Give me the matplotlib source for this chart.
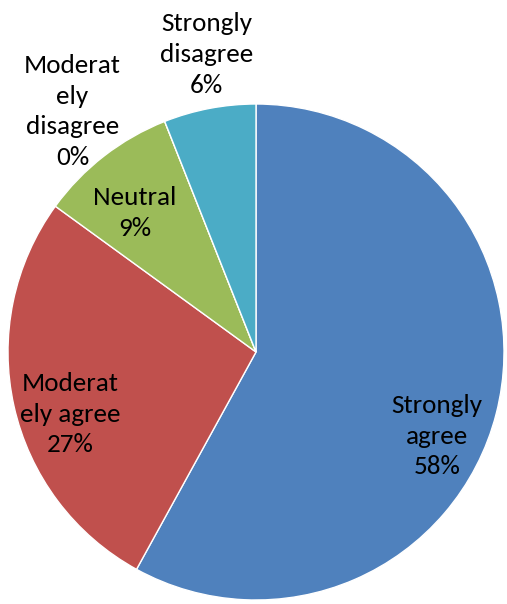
import matplotlib
matplotlib.use("Agg")
import matplotlib.pyplot as plt

# survey responses, percent (clockwise from 12 o'clock)
categories = ["Strongly agree", "Moderately agree", "Neutral",
              "Moderately disagree", "Strongly disagree"]
values = [58, 27, 9, 0, 6]
# label text as wrapped in the original
label_lines = ["Strongly\nagree", "Moderat\nely agree", "Neutral",
               "Moderat\nely\ndisagree", "Strongly\ndisagree"]
colors = ["#4F81BD", "#C0504D", "#9BBB59", "#8064A2", "#4BACC6"]

# label centres in pie-radius units
label_pos = [(0.73, -0.34), (-0.75, -0.25), (-0.49, 0.56),
             (-0.74, 0.97), (-0.20, 1.20)]

plt.rcParams["font.family"] = ["Carlito", "Lato", "DejaVu Sans"]

W, H = 507, 604
fig = plt.figure(figsize=(W / 100, H / 100), dpi=100)
cx, cy, r = 256, 352, 248
ax = fig.add_axes([(cx - r) / W, (H - cy - r) / H, 2 * r / W, 2 * r / H])

ax.pie(values, colors=colors, startangle=90, counterclock=False, radius=1,
       wedgeprops=dict(edgecolor="white", linewidth=1))
ax.set_xlim(-1, 1)
ax.set_ylim(-1, 1)
ax.set_aspect("equal")
ax.axis("off")

total = sum(values)
for txt, v, (x, y) in zip(label_lines, values, label_pos):
    ax.text(x, y, f"{txt}\n{round(100 * v / total)}%", ha="center", va="center",
            fontsize=19.5, linespacing=1.4, color="black")

fig.savefig("out.png", dpi=100)
